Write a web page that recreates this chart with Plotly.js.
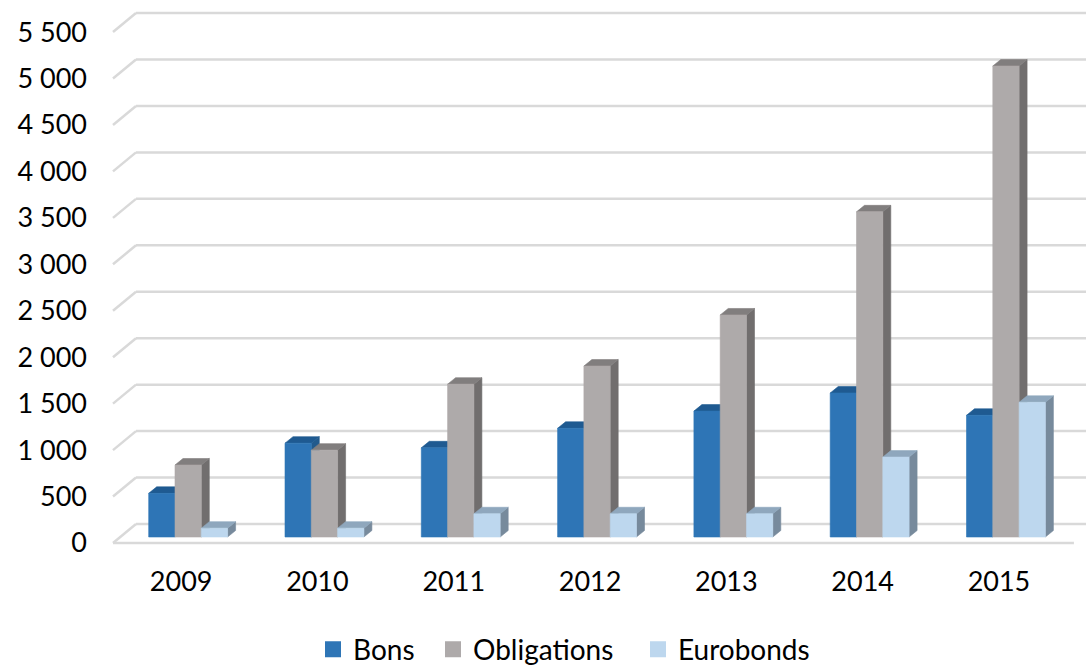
<!DOCTYPE html>
<html>
<head>
<meta charset="utf-8">
<script src="https://cdn.plot.ly/plotly-3.0.1.min.js"></script>
<style>
html,body{margin:0;padding:0;background:#fff;}
#chart{width:1086px;height:669px;}
</style>
</head>
<body>
<div id="chart"></div>
<script>
// ---- data ----
const years = ['2009', '2010', '2011', '2012', '2013', '2014', '2015'];
const bons = [470, 1010, 960, 1170, 1355, 1550, 1310];
const obligations = [775, 935, 1645, 1840, 2390, 3500, 5070];
const eurobonds = [95, 95, 250, 250, 250, 860, 1450];
const seriesNames = ['Bons', 'Obligations', 'Eurobonds'];
const yTickValues = [0, 500, 1000, 1500, 2000, 2500, 3000, 3500, 4000, 4500, 5000, 5500];
const yTickLabels = ['0', '500', '1 000', '1 500', '2 000', '2 500', '3 000', '3 500', '4 000', '4 500', '5 000', '5 500'];

// ---- styling / pseudo-3D geometry (in axis units) ----
const PX_PER_CAT = 136.3, PX_PER_VAL = 0.0929;
const wallDX = 23 / PX_PER_CAT, wallDY = 19 / PX_PER_VAL;   // back wall offset
const barDX = 7 / PX_PER_CAT, barDY = 6 / PX_PER_VAL;       // bar front plane offset
const depDX = 8 / PX_PER_CAT, depDY = 6.5 / PX_PER_VAL;     // bar depth
const barW = 26.3 / PX_PER_CAT;
const xMin = -0.5 - 3 / PX_PER_CAT, xMax = -0.5 + 973 / PX_PER_CAT;
const yMin = -3 / PX_PER_VAL, yMax = 533 / PX_PER_VAL;

const colors = {
  front: ['#2E75B6', '#AEAAAA', '#BDD7EE'],
  top:   ['#1F5A91', '#817E7E', '#8FA7BD'],
  side:  ['#225A8C', '#716E6E', '#778A9C']
};
const gridColor = '#D9D9D9';
const fontFamily = 'Lato, Carlito, "Open Sans", sans-serif';
const tickFont = {family: fontFamily, size: 27, color: '#000000'};
const legendFont = {family: fontFamily, size: 28, color: '#000000'};

const allSeries = [bons, obligations, eurobonds];

function buildFaces(vals, k) {
  const f = {x: [], y: []}, t = {x: [], y: []}, s = {x: [], y: []};
  vals.forEach((v, i) => {
    const x0 = i - 1.5 * barW + k * barW + barDX;
    const x1 = x0 + barW;
    const b = barDY, top = barDY + v;
    f.x.push(x0, x1, x1, x0, x0, null); f.y.push(b, b, top, top, b, null);
    t.x.push(x0, x1, x1 + depDX, x0 + depDX, x0, null);
    t.y.push(top, top, top + depDY, top + depDY, top, null);
    s.x.push(x1, x1 + depDX, x1 + depDX, x1, x1, null);
    s.y.push(b, b + depDY, top + depDY, top, b, null);
  });
  return {f, t, s};
}

const traces = [];
allSeries.forEach((vals, k) => {
  const faces = buildFaces(vals, k);
  [['s', 'side'], ['t', 'top'], ['f', 'front']].forEach(([key, cname]) => {
    traces.push({
      type: 'scatter', mode: 'lines', x: faces[key].x, y: faces[key].y,
      fill: 'toself', fillcolor: colors[cname][k],
      line: {color: colors[cname][k], width: 0.6},
      hoverinfo: 'skip', showlegend: false
    });
  });
});
// legend entries (one legend each for exact placement)
const legendIds = ['legend', 'legend2', 'legend3'];
seriesNames.forEach((name, k) => {
  traces.push({
    type: 'scatter', mode: 'markers', x: [null], y: [null], name: name,
    marker: {symbol: 'square', size: 16, color: colors.front[k]},
    hoverinfo: 'skip', showlegend: true, legend: legendIds[k]
  });
});

// gridlines on back wall + slanted left segments
const shapes = [];
yTickValues.forEach(v => {
  shapes.push({type: 'line', xref: 'x', yref: 'y', layer: 'below',
    x0: -0.5 + wallDX, x1: xMax, y0: v + wallDY, y1: v + wallDY,
    line: {color: gridColor, width: 2.5}});
  shapes.push({type: 'line', xref: 'x', yref: 'y', layer: 'below',
    x0: -0.5, x1: -0.5 + wallDX, y0: v, y1: v + wallDY,
    line: {color: gridColor, width: 2.5}});
});
// floor front edge
shapes.push({type: 'line', xref: 'x', yref: 'y', layer: 'below',
  x0: -0.5, x1: 6.55, y0: 0, y1: 0, line: {color: gridColor, width: 2.5}});

function legendAt(px) {
  return {orientation: 'h', x: (px - 110) / 976, xanchor: 'left', y: -0.193, yanchor: 'middle',
    font: legendFont, itemclick: false, itemdoubleclick: false, bgcolor: 'rgba(0,0,0,0)'};
}

const layout = {
  width: 1086, height: 669,
  margin: {l: 110, r: 0, t: 10, b: 123, autoexpand: false},
  paper_bgcolor: '#ffffff', plot_bgcolor: 'rgba(0,0,0,0)',
  showlegend: true,
  legend: legendAt(313),
  legend2: legendAt(433),
  legend3: legendAt(638),
  xaxis: {range: [xMin, xMax], showgrid: false, zeroline: false, showline: false,
    tickmode: 'array', tickvals: years.map((_, i) => i), ticktext: years,
    ticks: '', tickfont: tickFont, ticklabelstandoff: 17, fixedrange: true, automargin: false},
  yaxis: {range: [yMin, yMax], showgrid: false, zeroline: false, showline: false,
    tickmode: 'array', tickvals: yTickValues, ticktext: yTickLabels,
    ticks: '', tickfont: tickFont, ticklabelstandoff: 22, fixedrange: true, automargin: false},
  shapes: shapes,
  hovermode: false
};

Plotly.newPlot('chart', traces, layout, {displayModeBar: false, staticPlot: true});
</script>
</body>
</html>
